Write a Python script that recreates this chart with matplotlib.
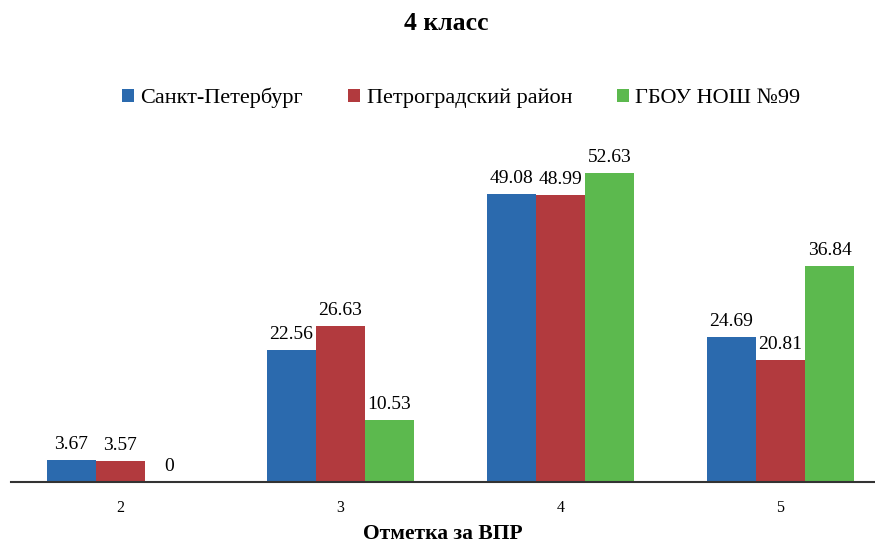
import matplotlib.pyplot as plt
import numpy as np

plt.rcParams['font.family'] = ['Liberation Serif', 'DejaVu Serif']

grades = ['2', '3', '4', '5']
spb = [3.67, 22.56, 49.08, 24.69]
district = [3.57, 26.63, 48.99, 20.81]
school = [0, 10.53, 52.63, 36.84]
series_names = ['Санкт-Петербург', 'Петроградский район', 'ГБОУ НОШ №99']
colors = ['#2B6AAE', '#B23A3E', '#5CB94E']

fig = plt.figure(figsize=(8.75, 5.44), dpi=100)
ax = fig.add_axes([0.012, 0.114, 0.988, 0.647])

x = np.arange(len(grades))
w = 0.223
for i, (vals, name, c) in enumerate(zip([spb, district, school], series_names, colors)):
    bars = ax.bar(x + (i - 1) * w, vals, w, color=c, label=name)
    for b, v in zip(bars, vals):
        ax.text(b.get_x() + b.get_width() / 2, v + 1.2, f'{v:g}' if v == 0 else f'{v:.2f}',
                ha='center', va='bottom', fontsize=14)

ax.set_xlim(-0.5, 3.43)
ax.set_ylim(0, 60)
ax.set_xticks(x)
ax.set_xticklabels(grades, fontsize=11.5)
ax.tick_params(axis='x', length=0, pad=13)
ax.set_yticks([])
for s in ['top', 'right', 'left']:
    ax.spines[s].set_visible(False)
ax.spines['bottom'].set_linewidth(1.5)
ax.spines['bottom'].set_color('#333333')
ax.set_xlabel('Отметка за ВПР', fontsize=15.5, fontweight='bold', labelpad=6)

fig.text(0.51, 0.957, '4 класс', ha='center', va='center', fontsize=18.5, fontweight='bold')
fig.legend(loc='center', bbox_to_anchor=(0.527, 0.82), ncol=3, frameon=False, fontsize=16,
           handlelength=0.55, handleheight=0.55, handletextpad=0.3, columnspacing=2.0)

fig.savefig('out.png', dpi=100)
